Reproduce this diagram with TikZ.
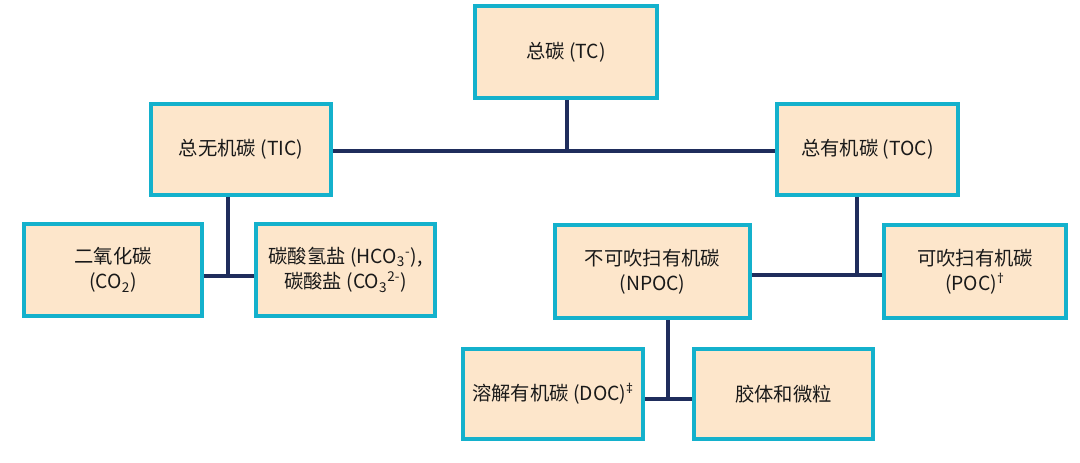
\documentclass[tikz,border=0pt]{standalone}
\usepackage{fontspec}
\setmainfont{Noto Sans CJK SC}
\newfontfamily\latinsym{Noto Sans}
\definecolor{boxfill}{HTML}{FDE6CB}
\definecolor{boxline}{HTML}{14B1CC}
\definecolor{conn}{HTML}{1F2D5C}
\tikzset{
  box/.style={draw=boxline, fill=boxfill, line width=3pt, inner sep=2pt,
    align=center, font=\fontsize{14.5pt}{19pt}\selectfont, text=black!90},
  conn/.style={draw=conn, line width=2.3pt}
}
\newcommand{\dagmark}[1]{\textsuperscript{\latinsym\bfseries #1}}
\begin{document}
\begin{tikzpicture}[x=0.75pt,y=-0.75pt]
\useasboundingbox (0,0) rectangle (1080,463);
\node[box, minimum width=136.5pt, minimum height=69pt] (TC) at (566,52) {总碳 (TC)};
\node[box, minimum width=135pt, minimum height=68.25pt] (TIC) at (241,149.5) {总无机碳 (TIC)};
\node[box, minimum width=135.75pt, minimum height=68.25pt] (TOC) at (867.5,149.5) {总有机碳 (TOC)};
\node[box, minimum width=133.5pt, minimum height=69pt] (CO2) at (113,270) {二氧化碳\\(CO\textsubscript{2})};
\node[box, minimum width=134.25pt, minimum height=69pt] (HCO) at (345.5,270) {碳酸氢盐 (HCO\textsubscript{3}\textsuperscript{-}),\\碳酸盐 (CO\textsubscript{3}\textsuperscript{2-})};
\node[box, minimum width=146.25pt, minimum height=69.75pt] (NPOC) at (652.5,271.5) {不可吹扫有机碳\\(NPOC)};
\node[box, minimum width=136.5pt, minimum height=69.75pt] (POC) at (975,271.5) {可吹扫有机碳\\(POC)\dagmark{†}};
\node[box, minimum width=135pt, minimum height=67.5pt] (DOC) at (553,394) {溶解有机碳 (DOC)\dagmark{‡}};
\node[box, minimum width=134.25pt, minimum height=67.5pt] (COL) at (783.5,394) {胶体和微粒};
\coordinate (j1) at (567,151);
\coordinate (j2) at (228,276);
\coordinate (j3) at (857,275);
\coordinate (j4) at (668,399);
\path[conn] (TIC.east |- j1) -- (TOC.west |- j1);
\path[conn] (j1 |- TC.south) -- (j1);
\path[conn] (CO2.east |- j2) -- (HCO.west |- j2);
\path[conn] (j2 |- TIC.south) -- (j2);
\path[conn] (NPOC.east |- j3) -- (POC.west |- j3);
\path[conn] (j3 |- TOC.south) -- (j3);
\path[conn] (DOC.east |- j4) -- (COL.west |- j4);
\path[conn] (j4 |- NPOC.south) -- (j4);
\end{tikzpicture}
\end{document}
